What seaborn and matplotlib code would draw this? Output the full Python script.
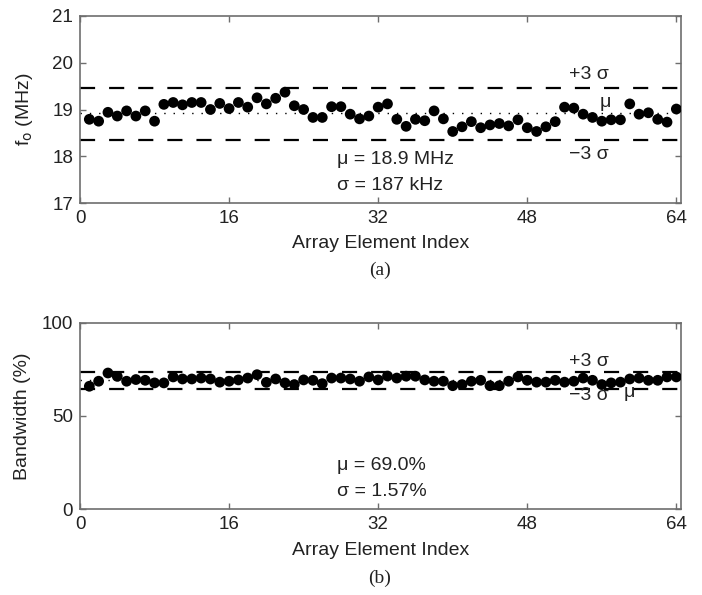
import numpy as np
import pandas as pd
import matplotlib
matplotlib.use("Agg")
import matplotlib.pyplot as plt
import seaborn as sns

# ---- data ----
element_index = list(range(1, 65))
fo_mhz = [18.79, 18.75, 18.94, 18.86, 18.97, 18.86, 18.97, 18.75, 19.11, 19.15,
          19.10, 19.15, 19.15, 19.00, 19.13, 19.02, 19.15, 19.05, 19.25, 19.12,
          19.24, 19.37, 19.08, 19.00, 18.83, 18.83, 19.06, 19.06, 18.90, 18.80,
          18.86, 19.05, 19.12, 18.79, 18.64, 18.79, 18.76, 18.97, 18.80, 18.53,
          18.63, 18.74, 18.61, 18.67, 18.70, 18.65, 18.78, 18.61, 18.53, 18.63,
          18.74, 19.05, 19.03, 18.90, 18.83, 18.75, 18.78, 18.78, 19.12, 18.90,
          18.93, 18.79, 18.73, 19.01]
bandwidth_pct = [65.9, 68.6, 73.0, 71.2, 68.6, 69.5, 69.1, 67.7, 67.7, 70.9,
                 69.8, 69.8, 70.3, 69.8, 68.1, 68.6, 69.3, 70.3, 72.1, 68.0,
                 69.8, 67.7, 66.8, 69.3, 69.1, 67.3, 70.3, 70.3, 69.8, 68.6,
                 70.9, 69.3, 71.4, 70.3, 71.3, 71.3, 69.3, 68.6, 68.6, 66.2,
                 66.8, 68.6, 69.1, 66.2, 66.2, 68.6, 70.9, 69.1, 68.1, 68.1,
                 69.1, 68.1, 68.6, 70.3, 69.1, 66.8, 67.7, 68.1, 69.8, 70.3,
                 69.1, 69.1, 70.9, 70.9]
fo_mu, fo_sigma = 18.9, 0.187
bw_mu, bw_sigma = 69.0, 1.57
x_ticks = [0, 16, 32, 48, 64]
fo_ticks = [17, 18, 19, 20, 21]
bw_ticks = [0, 50, 100]

df = pd.DataFrame({"idx": element_index, "fo": fo_mhz, "bw": bandwidth_pct})

sns.set_theme(style="white")
plt.rcParams["font.family"] = ["Liberation Sans", "DejaVu Sans"]
txt = "#222222"
spine = "#6e6e6e"
FS = 14
TFS = 13.5

fig = plt.figure(figsize=(7.02, 5.95), dpi=100)
ax1 = fig.add_axes([80/702, 1-203/595, 601/702, 187/595])
ax2 = fig.add_axes([80/702, 1-509.3/595, 601/702, 186.7/595])

def style(ax):
    for s in ax.spines.values():
        s.set_color(spine)
        s.set_linewidth(1.2)
    ax.tick_params(direction="in", length=4, width=1, colors=spine,
                   labelcolor=txt, labelsize=TFS, top=True, right=True,
                   bottom=True, left=True, pad=5)
    ax.set_xlim(0, 64.5)
    ax.set_xticks(x_ticks)
    ax.set_xlabel("Array Element Index", fontsize=FS, color=txt, labelpad=6)

# ---- panel (a) ----
for v in (fo_mu + 3*fo_sigma, fo_mu - 3*fo_sigma):
    ax1.axhline(v, color="black", lw=1.6, dashes=(6.8, 6.3), zorder=1)
ax1.axhline(fo_mu + 0.02, color="black", lw=1.0, dashes=(1, 5.7), zorder=1)
sns.scatterplot(data=df, x="idx", y="fo", ax=ax1, color="black", s=60,
                edgecolor="none", zorder=3, legend=False)
style(ax1)
ax1.set_ylim(17, 21)
ax1.set_yticks(fo_ticks)
ax1.set_ylabel("f$_\\mathrm{o}$ (MHz)", fontsize=FS, color=txt, labelpad=12)
ax1.text(54.6, 19.74, "+3 σ", ha="center", va="center", fontsize=FS, color=txt)
ax1.text(54.6, 18.03, "−3 σ", ha="center", va="center", fontsize=FS, color=txt)
ax1.text(56.4, 19.14, "μ", ha="center", va="center", fontsize=FS, color=txt)
ax1.text(27.6, 17.92, "μ = 18.9 MHz", ha="left", va="center", fontsize=FS, color=txt)
ax1.text(27.6, 17.38, "σ = 187 kHz", ha="left", va="center", fontsize=FS, color=txt)
fig.text(380/702, 1-270/595, "(a)", ha="center", va="center", fontsize=14,
         family="Liberation Serif", color=txt)

# ---- panel (b) ----
for v in (bw_mu + 3*bw_sigma, bw_mu - 3*bw_sigma):
    ax2.axhline(v, color="black", lw=1.6, dashes=(6.8, 6.3), zorder=1)
ax2.axhline(bw_mu, color="black", lw=1.0, dashes=(1, 5.7), zorder=1)
sns.scatterplot(data=df, x="idx", y="bw", ax=ax2, color="black", s=60,
                edgecolor="none", zorder=3, legend=False)
style(ax2)
ax2.set_ylim(0, 100)
ax2.set_yticks(bw_ticks)
ax2.set_ylabel("Bandwidth (%)", fontsize=FS, color=txt, labelpad=8)
ax2.text(54.6, 78.9, "+3 σ", ha="center", va="center", fontsize=FS, color=txt)
ax2.text(54.6, 61.2, "−3 σ", ha="center", va="center", fontsize=FS, color=txt)
ax2.text(58.9, 62.8, "μ", ha="center", va="center", fontsize=FS, color=txt)
ax2.text(27.6, 23.2, "μ = 69.0%", ha="left", va="center", fontsize=FS, color=txt)
ax2.text(27.6, 9.3, "σ = 1.57%", ha="left", va="center", fontsize=FS, color=txt)
fig.text(380/702, 1-578/595, "(b)", ha="center", va="center", fontsize=14,
         family="Liberation Serif", color=txt)

fig.savefig("out.png", dpi=100)
